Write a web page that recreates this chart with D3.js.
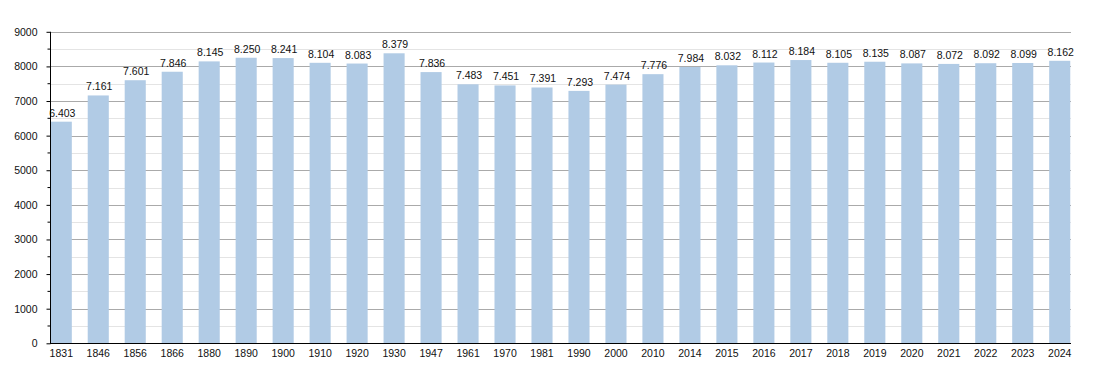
<!DOCTYPE html>
<head>
<meta charset="utf-8">
<style>
body { margin: 0; background: #fff; font-family: "Liberation Sans", Arial, sans-serif; }
.bar-label { font-size: 10.5px; fill: #111; text-anchor: middle; }
.axis text { font-size: 10.5px; fill: #111; }
</style>
</head>
<body>
<svg width="1100" height="373"></svg>
<script src="https://d3js.org/d3.v7.min.js"></script>
<script>
// population by census year
var years = ["1831", "1846", "1856", "1866", "1880", "1890", "1900", "1910", "1920", "1930",
  "1947", "1961", "1970", "1981", "1990", "2000", "2010", "2014", "2015", "2016",
  "2017", "2018", "2019", "2020", "2021", "2022", "2023", "2024"];
var population = [6403, 7161, 7601, 7846, 8145, 8250, 8241, 8104, 8083, 8379,
  7836, 7483, 7451, 7391, 7293, 7474, 7776, 7984, 8032, 8112,
  8184, 8105, 8135, 8087, 8072, 8092, 8099, 8162];
var yTicks = [0, 1000, 2000, 3000, 4000, 5000, 6000, 7000, 8000, 9000];
var yMinor = [500, 1500, 2500, 3500, 4500, 5500, 6500, 7500, 8500];

// note: "top" is a reserved window prop, so use plotTop etc
var svg = d3.select("svg"),
    plotLeft = 50, plotRight = 1071, plotTop = 31.8, plotBottom = 343.3;

var x = d3.scaleBand()
    .domain(years)
    .range([plotLeft, plotRight])
    .paddingInner(0.43)
    .paddingOuter(0.02);

var y = d3.scaleLinear()
    .domain([0, 9000])
    .range([plotBottom, plotTop]);

var fmt = d3.formatLocale({decimal: ",", thousands: ".", grouping: [3], currency: ["", ""]}).format(",d");

// grid
svg.append("g").selectAll("line")
  .data(yMinor)
  .enter().append("line")
    .attr("x1", plotLeft).attr("x2", plotRight)
    .attr("y1", function(d) { return Math.round(y(d)) + 0.5; })
    .attr("y2", function(d) { return Math.round(y(d)) + 0.5; })
    .style("stroke", "#e4e4e4");

svg.append("g").selectAll("line")
  .data(yTicks.slice(1))
  .enter().append("line")
    .attr("x1", plotLeft).attr("x2", plotRight)
    .attr("y1", function(d) { return Math.round(y(d)) + 0.5; })
    .attr("y2", function(d) { return Math.round(y(d)) + 0.5; })
    .style("stroke", "#aaaaaa");

// bars
svg.append("g").selectAll("rect")
  .data(population)
  .enter().append("rect")
    .attr("x", function(d, i) { return x(years[i]); })
    .attr("width", x.bandwidth())
    .attr("y", function(d) { return y(d); })
    .attr("height", function(d) { return y(0) - y(d); })
    .style("fill", "#b1cbe5");

svg.append("g").selectAll("text")
  .data(population)
  .enter().append("text")
    .attr("class", "bar-label")
    .attr("x", function(d, i) { return x(years[i]) + x.bandwidth() / 2 + 1; })
    .attr("y", function(d) { return y(d) - 5; })
    .text(function(d) { return fmt(d); });

// axes
var yAxis = svg.append("g")
    .attr("class", "axis")
    .attr("transform", "translate(" + (plotLeft + 0.5) + ",0)")
    .call(d3.axisLeft(y).tickValues(yTicks).tickSize(4).tickPadding(9).tickFormat(d3.format("d")));
yAxis.select(".domain").attr("d", "M0," + plotTop + "V" + plotBottom);

svg.append("g")
    .attr("transform", "translate(" + (plotLeft + 0.5) + ",0)")
  .selectAll("line")
  .data(yMinor)
  .enter().append("line")
    .attr("x1", -3).attr("x2", 0)
    .attr("y1", function(d) { return y(d); })
    .attr("y2", function(d) { return y(d); })
    .style("stroke", "#000");

var xAxis = svg.append("g")
    .attr("class", "axis")
    .attr("transform", "translate(0," + (Math.round(plotBottom) + 0.5) + ")")
    .call(d3.axisBottom(x).tickSize(0).tickPadding(6));
xAxis.select(".domain").attr("d", "M" + plotLeft + ",0H" + plotRight);
</script>
</body>
